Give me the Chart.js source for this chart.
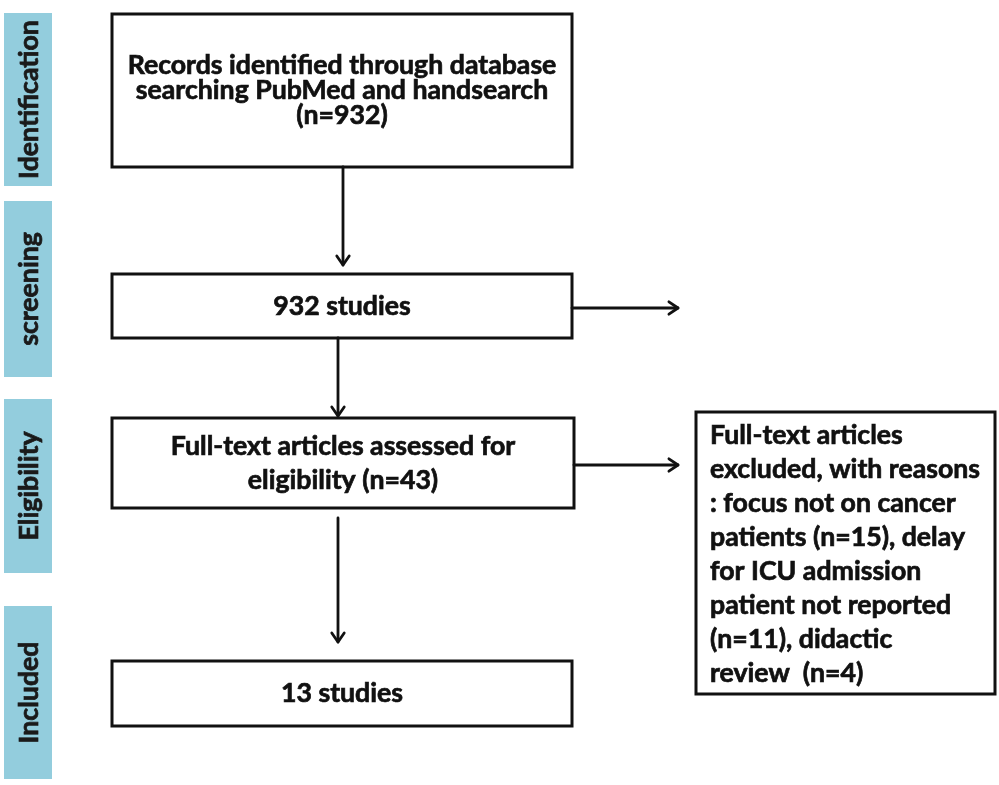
<!DOCTYPE html>
<html>
<head>
<meta charset="utf-8">
<script src="https://cdn.jsdelivr.net/npm/chart.js@4.4.1/dist/chart.umd.min.js"></script>
<style>
  html, body { margin: 0; padding: 0; background: #fff; }
  canvas { display: block; }
</style>
</head>
<body>
<canvas id="flow" width="999" height="785"></canvas>
<script>
// stages on the left
const stages = ["Identification", "screening", "Eligibility", "Included"];

// boxes in the main column (one array of lines per box)
const mainBoxes = [
  ["Records identified through database", "searching PubMed and handsearch", "(n=932)"],
  ["932 studies"],
  ["Full-text articles assessed for", "eligibility (n=43)"],
  ["13 studies"]
];

// exclusion box on the right
const excludedLines = [
  "Full-text articles",
  "excluded, with reasons",
  ": focus not on cancer",
  "patients (n=15), delay",
  "for ICU admission",
  "patient not reported",
  "(n=11), didactic",
  "review  (n=4)"
];

// layout, in chart units (x 0..999, y 0..785 top-down)
const stageRects = [[4, 13, 52, 186], [4, 201, 52, 377], [4, 399, 52, 573], [4, 606, 52, 779]];
const mainRects = [[112, 14, 572, 167], [112, 274, 572, 338], [112, 418, 574, 508], [112, 661, 572, 726]];
const mainLineH = [25, 0, 34, 0];
const exclRect = [696, 412, 995, 694];
const exclLineH = 34;
const arrows = [
  [343, 167, 343, 265],
  [338, 338, 338, 416],
  [338, 518, 338, 642],
  [572, 308, 678, 308],
  [574, 465, 678, 465]
];

const FONT = "Lato, 'Open Sans', sans-serif";

// text with a hairline stroke so it reads as heavy as the original
function boldText(ctx, t, x, y) {
  ctx.fillText(t, x, y);
  ctx.strokeText(t, x, y);
}

const flowPlugin = {
  id: "flow",
  afterDraw(chart) {
    const ctx = chart.ctx;
    const xs = chart.scales.x, ys = chart.scales.y;
    const px = v => xs.getPixelForValue(v);
    const py = v => ys.getPixelForValue(v);

    // fit the font to the reference width of the first line
    ctx.font = "bold 22px " + FONT;
    const fs = 22 * 429 / ctx.measureText(mainBoxes[0][0]).width;
    const font = "bold " + fs.toFixed(1) + "px " + FONT;

    ctx.save();
    // stage labels
    stageRects.forEach((r, i) => {
      const x0 = px(r[0]), y0 = py(r[1]), x1 = px(r[2]), y1 = py(r[3]);
      ctx.fillStyle = "#93cddd";
      ctx.fillRect(x0, y0, x1 - x0, y1 - y0);
      ctx.save();
      ctx.translate((x0 + x1) / 2 + 1, (y0 + y1) / 2);
      ctx.rotate(-Math.PI / 2);
      ctx.fillStyle = "#1a1a1a";
      ctx.strokeStyle = "#1a1a1a";
      ctx.lineWidth = 0.7;
      ctx.font = font;
      ctx.textAlign = "center";
      ctx.textBaseline = "middle";
      boldText(ctx, stages[i], 0, 0);
      ctx.restore();
    });

    // main boxes
    ctx.strokeStyle = "#111";
    ctx.fillStyle = "#111";
    ctx.font = font;
    ctx.textAlign = "center";
    ctx.textBaseline = "middle";
    mainRects.forEach((r, i) => {
      const x0 = px(r[0]), y0 = py(r[1]), x1 = px(r[2]), y1 = py(r[3]);
      ctx.lineWidth = 3;
      ctx.strokeRect(x0, y0, x1 - x0, y1 - y0);
      ctx.lineWidth = 0.7;
      const lines = mainBoxes[i];
      const cy = (y0 + y1) / 2;
      const lh = mainLineH[i];
      lines.forEach((t, k) => {
        boldText(ctx, t, (x0 + x1) / 2, cy + (k - (lines.length - 1) / 2) * lh);
      });
    });

    // exclusion box
    {
      const r = exclRect;
      const x0 = px(r[0]), y0 = py(r[1]), x1 = px(r[2]), y1 = py(r[3]);
      ctx.lineWidth = 3;
      ctx.strokeRect(x0, y0, x1 - x0, y1 - y0);
      ctx.lineWidth = 0.7;
      ctx.textAlign = "left";
      const cy = (y0 + y1) / 2;
      excludedLines.forEach((t, k) => {
        boldText(ctx, t, x0 + 14, cy + 1 + (k - (excludedLines.length - 1) / 2) * exclLineH);
      });
    }

    // arrows
    ctx.lineWidth = 2.8;
    ctx.lineCap = "round";
    ctx.lineJoin = "round";
    arrows.forEach(a => {
      const x0 = px(a[0]), y0 = py(a[1]), x1 = px(a[2]), y1 = py(a[3]);
      ctx.beginPath();
      ctx.moveTo(x0, y0);
      ctx.lineTo(x1, y1);
      ctx.stroke();
      const ang = Math.atan2(y1 - y0, x1 - x0);
      const L = 11, W = 0.6;
      ctx.beginPath();
      ctx.moveTo(x1 - L * Math.cos(ang - W), y1 - L * Math.sin(ang - W));
      ctx.lineTo(x1, y1);
      ctx.lineTo(x1 - L * Math.cos(ang + W), y1 - L * Math.sin(ang + W));
      ctx.stroke();
    });
    ctx.restore();
  }
};

new Chart(document.getElementById("flow"), {
  type: "scatter",
  data: { datasets: [{ data: [] }] },
  options: {
    responsive: false,
    devicePixelRatio: 1,
    animation: false,
    layout: { padding: 0 },
    plugins: { legend: { display: false }, tooltip: { enabled: false } },
    scales: {
      x: { type: "linear", min: 0, max: 999, display: false },
      y: { type: "linear", min: 0, max: 785, reverse: true, display: false }
    }
  },
  plugins: [flowPlugin]
});
</script>
</body>
</html>
